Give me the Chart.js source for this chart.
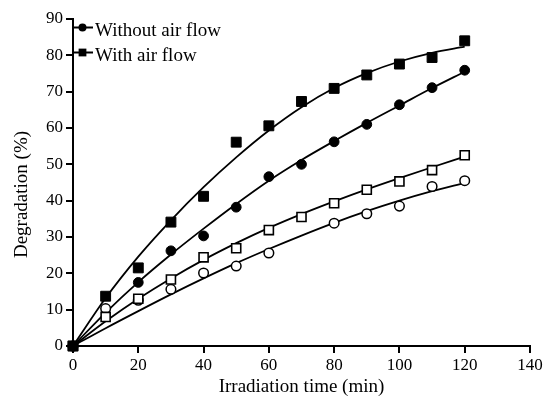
<!DOCTYPE html>
<html>
<head>
<meta charset="utf-8">
<script src="https://cdn.jsdelivr.net/npm/chart.js@4/dist/chart.umd.min.js"></script>
<style>
html,body{margin:0;padding:0;background:#fff;}
#wrap{width:550px;height:404px;position:relative;}
</style>
</head>
<body>
<div id="wrap"><canvas id="c" width="550" height="404"></canvas></div>
<script>
// ---- data ----
const times = [0, 10, 20, 30, 40, 50, 60, 70, 80, 90, 100, 110, 120];
const withAirFlow    = [0, 13.7, 21.5, 34.1, 41.2, 56.1, 60.6, 67.3, 70.9, 74.6, 77.6, 79.4, 84.0];
const withoutAirFlow = [0, null, 17.5, 26.2, 30.3, 38.2, 46.6, 50.0, 56.2, 61.0, 66.4, 71.1, 75.9];
const openSquares    = [0, 8.0, 13.0, 18.3, 24.4, 26.9, 31.9, 35.5, 39.3, 43.0, 45.3, 48.4, 52.5];
const openCircles    = [0, 10.3, 12.6, 15.6, 20.1, 22.0, 25.6, null, 33.8, 36.4, 38.5, 43.9, 45.5];
// fitted curves
const fitWithAir     = [0, 13.2, 24.6, 34.6, 43.7, 51.9, 59.3, 65.7, 71.0, 75.1, 78.3, 80.7, 82.4];
const fitWithoutAir  = [0, 9.2, 17.6, 25.2, 32.3, 39.1, 45.5, 51.2, 56.4, 61.4, 66.2, 71.0, 75.5];
const fitOpenSquares = [0, 6.8, 13.0, 18.6, 23.7, 28.3, 32.5, 36.3, 39.8, 43.1, 46.2, 49.2, 52.1];
const fitOpenCircles = [0, 4.9, 9.6, 14.2, 18.6, 22.8, 26.7, 30.4, 33.9, 37.1, 40.0, 42.6, 44.9];
const xTicks = [0, 20, 40, 60, 80, 100, 120, 140];
const yTicks = [0, 10, 20, 30, 40, 50, 60, 70, 80, 90];
const legendLabels = ['Without air flow', 'With air flow'];
const xTitle = 'Irradiation time (min)';
const yTitle = 'Degradation (%)';

const FONT = "'Liberation Serif','Times New Roman',serif";
const pts = arr => times.map((t, i) => ({x: t, y: arr[i]})).filter(p => p.y !== null);

const markerSet = (label, arr, style, radius, fill, bw) => ({
  label, data: pts(arr), showLine: false, clip: false,
  pointStyle: style, pointRadius: radius, pointHoverRadius: radius,
  pointBackgroundColor: fill, pointBorderColor: '#000', pointBorderWidth: bw
});
const fitSet = (label, arr) => ({
  label, data: pts(arr), showLine: true, pointRadius: 0, pointHoverRadius: 0, clip: false,
  borderColor: '#000', borderWidth: 1.8, cubicInterpolationMode: 'monotone', fill: false
});

const datasets = [
  markerSet('With air flow', withAirFlow, 'rect', 7, '#000', 1),
  markerSet('Without air flow', withoutAirFlow, 'circle', 4.9, '#000', 1),
  markerSet('open squares', openSquares, 'rect', 6.4, '#fff', 1.6),
  markerSet('open circles', openCircles, 'circle', 4.8, '#fff', 1.5),
  fitSet('fit with', fitWithAir),
  fitSet('fit without', fitWithoutAir),
  fitSet('fit open squares', fitOpenSquares),
  fitSet('fit open circles', fitOpenCircles)
];

// legend drawn inside the plot, top-left, with "-marker-" symbols
const legendPlugin = {
  id: 'insideLegend',
  afterDatasetsDraw(chart) {
    const ctx = chart.ctx, a = chart.chartArea;
    const rows = [
      {text: legendLabels[0], style: 'circle', r: 4},
      {text: legendLabels[1], style: 'rect', r: 5.5}
    ];
    ctx.save();
    rows.forEach((row, i) => {
      const y = a.top + 8.5 + i * 25;
      ctx.strokeStyle = '#000'; ctx.lineWidth = 2;
      ctx.beginPath(); ctx.moveTo(a.left, y); ctx.lineTo(a.left + 20, y); ctx.stroke();
      ctx.fillStyle = '#000';
      ctx.beginPath();
      if (row.style === 'circle') { ctx.arc(a.left + 9.5, y, row.r, 0, Math.PI * 2); }
      else { ctx.rect(a.left + 9.5 - row.r * 0.707, y - row.r * 0.707, row.r * 1.414, row.r * 1.414); }
      ctx.fill();
      ctx.font = '19px ' + FONT;
      ctx.textBaseline = 'alphabetic'; ctx.textAlign = 'left';
      ctx.fillText(row.text, a.left + 22, y + 8.5);
    });
    ctx.restore();
  }
};

// y axis title (rotated), placed as in the reference
const yTitlePlugin = {
  id: 'yTitle',
  afterDraw(chart) {
    const ctx = chart.ctx, a = chart.chartArea;
    ctx.save();
    ctx.translate(22, (a.top + a.bottom) / 2 + 12);
    ctx.rotate(-Math.PI / 2);
    ctx.font = '19px ' + FONT;
    ctx.fillStyle = '#000';
    ctx.textAlign = 'center'; ctx.textBaseline = 'middle';
    ctx.fillText(yTitle, 0, 0);
    ctx.restore();
  }
};

new Chart(document.getElementById('c'), {
  type: 'scatter',
  data: {datasets},
  options: {
    responsive: false,
    animation: false,
    events: [],
    layout: {padding: {left: 0, right: 20, top: 19, bottom: 0}},
    plugins: {legend: {display: false}, tooltip: {enabled: false}},
    scales: {
      x: {
        type: 'linear', min: 0, max: 140,
        afterBuildTicks: s => { s.ticks = xTicks.map(v => ({value: v})); },
        afterFit: s => { s.height = 58; },
        grid: {drawOnChartArea: false, drawTicks: true, tickLength: 7, color: '#000', lineWidth: 2},
        border: {display: true, color: '#000', width: 2},
        ticks: {color: '#000', font: {family: FONT, size: 17}, padding: 2, maxRotation: 0},
        title: {display: true, text: xTitle, color: '#000', font: {family: FONT, size: 19}, padding: {top: 0, bottom: 6}}
      },
      y: {
        type: 'linear', min: 0, max: 90,
        afterBuildTicks: s => { s.ticks = yTicks.map(v => ({value: v})); },
        afterFit: s => { s.width = 73; },
        grid: {drawOnChartArea: false, drawTicks: true, tickLength: 7, color: '#000', lineWidth: 2},
        border: {display: true, color: '#000', width: 2},
        ticks: {color: '#000', font: {family: FONT, size: 17}, padding: 3},
        title: {display: false}
      }
    }
  },
  plugins: [legendPlugin, yTitlePlugin]
});
</script>
</body>
</html>
